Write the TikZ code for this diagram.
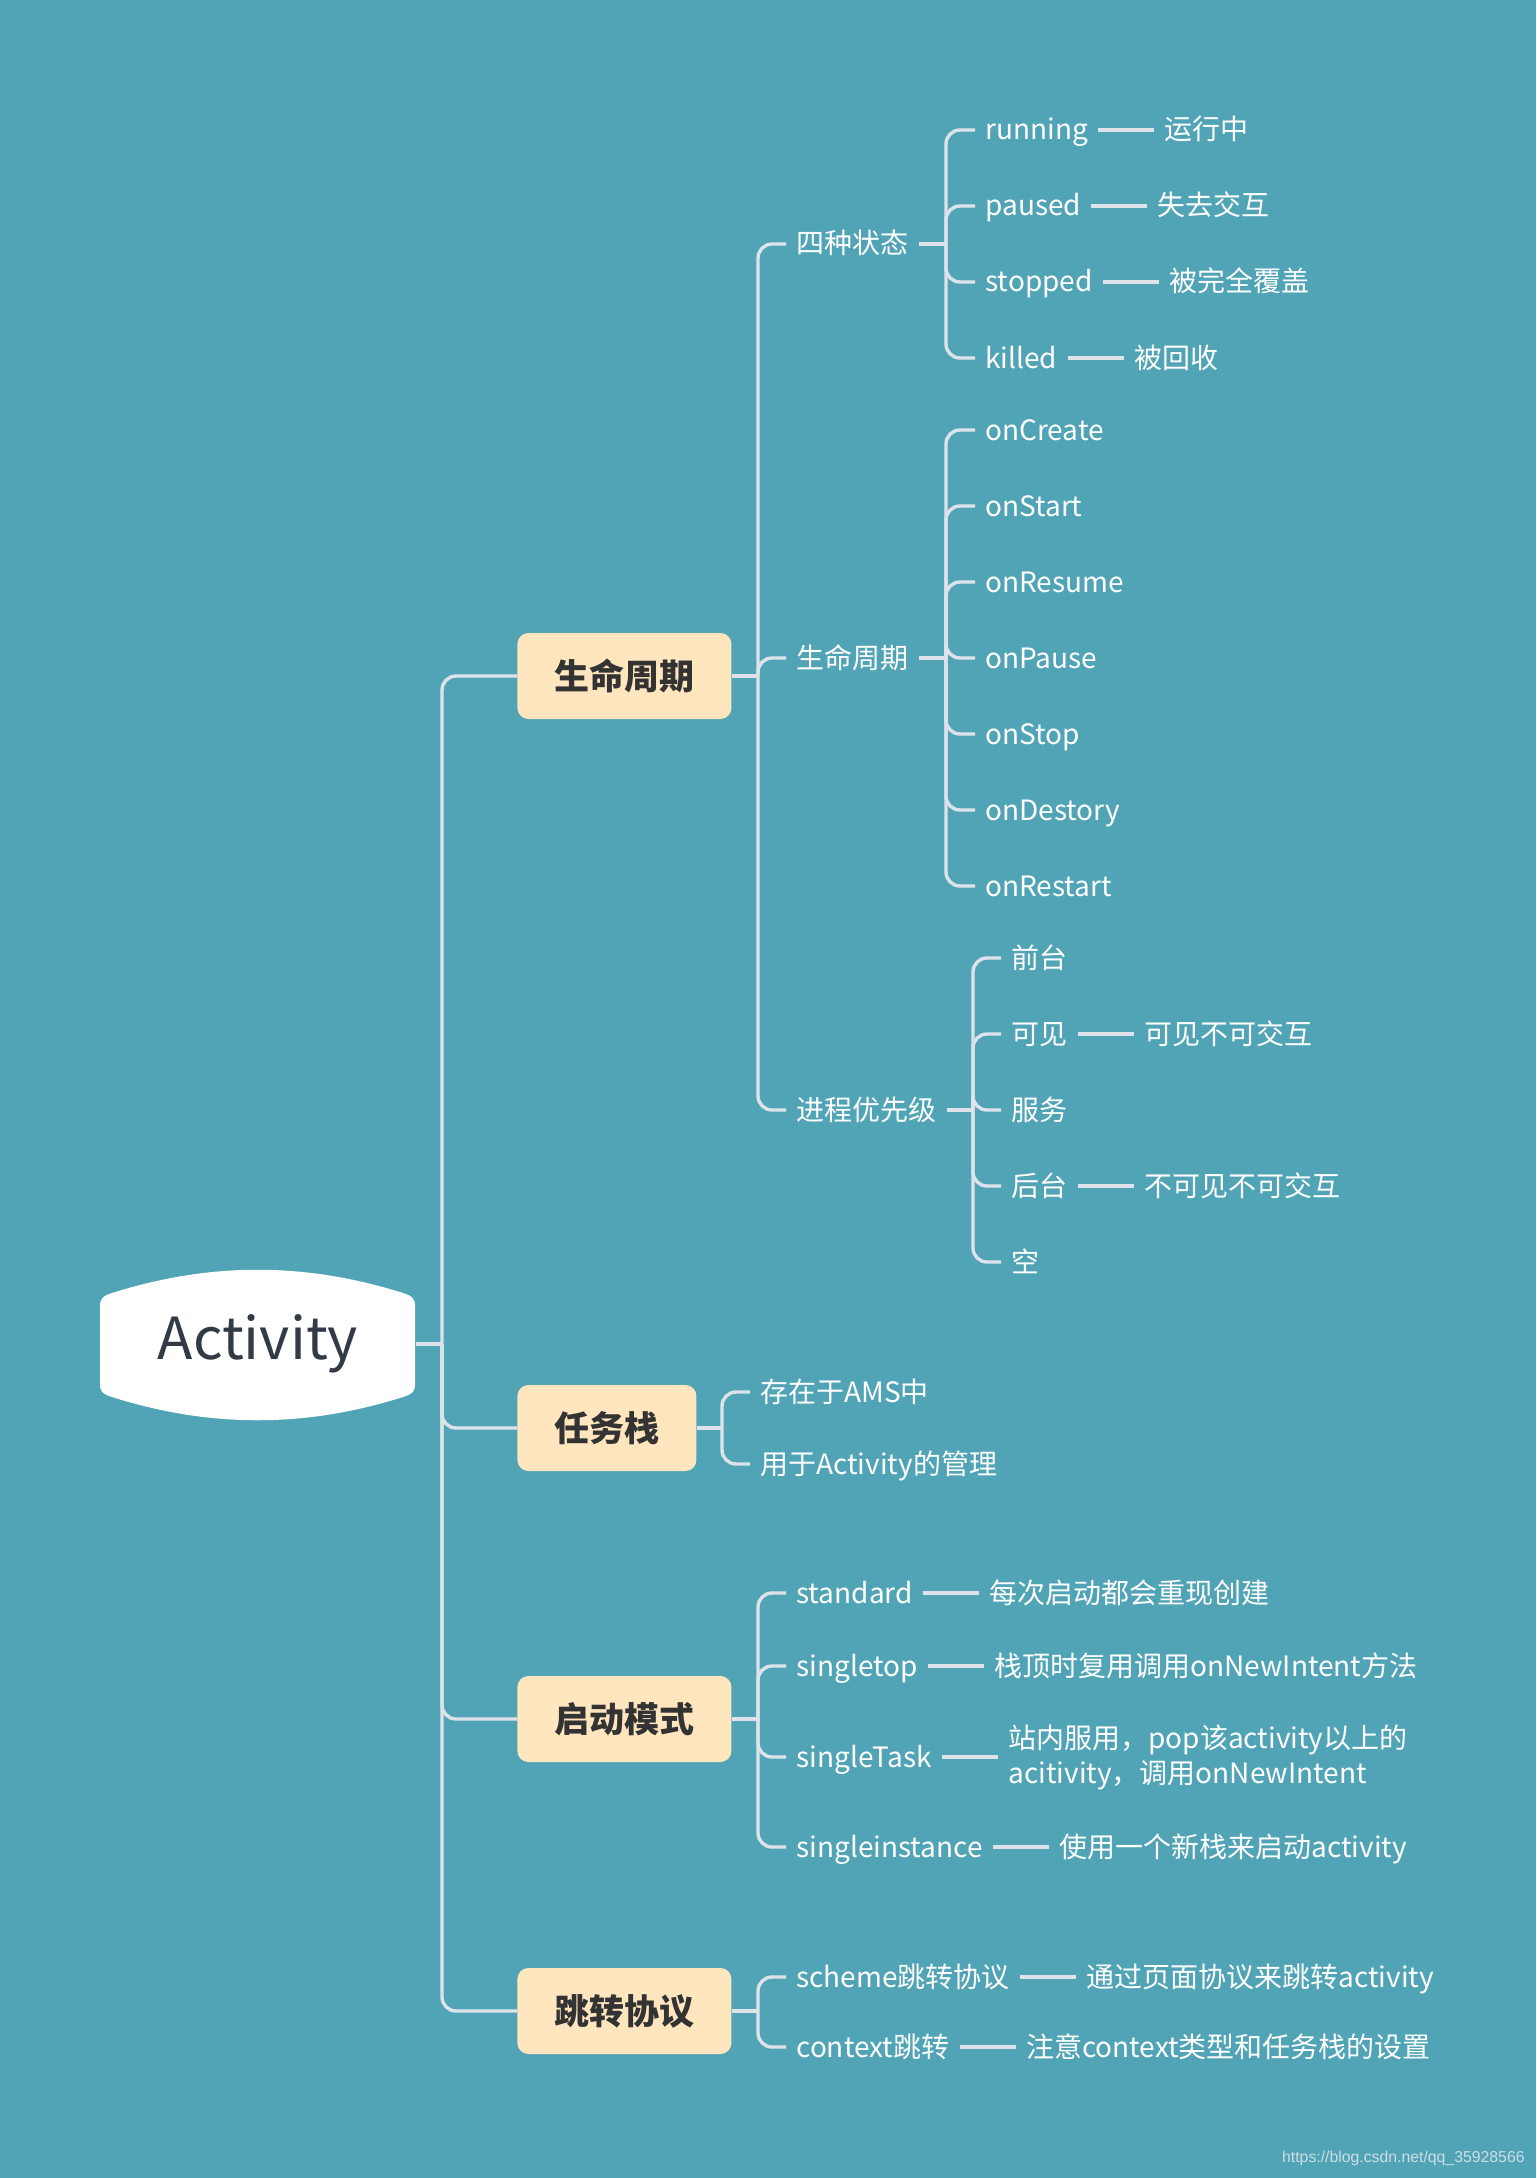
\documentclass[tikz,border=0pt]{standalone}
\usepackage{fontspec}
\setmainfont{Noto Sans CJK SC}
\newfontfamily\wmfont{Liberation Sans}
\usetikzlibrary{positioning}

\definecolor{bgteal}{RGB}{81,164,182}
\definecolor{peach}{RGB}{255,230,191}
\definecolor{linegrey}{RGB}{222,226,235}
\definecolor{boxtext}{RGB}{51,51,51}
\definecolor{roottext}{RGB}{50,58,70}
\definecolor{wmgrey}{RGB}{205,222,228}

\begin{document}
\begin{tikzpicture}[
  x=0.5pt, y=-0.5pt,
  link/.style={draw=linegrey, line width=1.7pt, rounded corners=7pt},
  topic/.style={fill=peach, text=boxtext, rounded corners=5.5pt, anchor=west,
    font=\fontsize{17.5}{20}\selectfont\bfseries, inner xsep=18.5pt, minimum height=43pt},
  leafbase/.style={text=white, font=\fontsize{14}{17.5}\selectfont, inner xsep=5pt, inner ysep=1pt},
  leaf/.style={leafbase, text height=12pt, text depth=2pt, anchor=west},
  wm/.style={text=wmgrey, font=\wmfont\fontsize{7.9}{9}\selectfont, inner sep=0pt}
]
  % background and page size
  \fill[bgteal] (0,0) rectangle (1536,2178);
  \useasboundingbox (0,0) rectangle (1536,2178);

  % root
  \fill[white] (100,1306) .. controls (100,1298) and (103,1296) .. (112,1293)
    .. controls (210,1262) and (305,1262) .. (403,1293)
    .. controls (412,1296) and (415,1298) .. (415,1306) -- (415,1384)
    .. controls (415,1392) and (412,1394) .. (403,1397)
    .. controls (305,1428) and (210,1428) .. (112,1397)
    .. controls (103,1394) and (100,1392) .. (100,1384) -- cycle;
  \node[text=roottext, font=\fontsize{29}{33}\selectfont, minimum width=157.5pt] (root) at (258,1344) {Activity};

  % main topics
  \node[topic] (life) at (517,676) {生命周期};
  \node[topic] (task) at (517,1428) {任务栈};
  \node[topic] (mode) at (517,1719) {启动模式};
  \node[topic] (jump) at (517,2011) {跳转协议};

  \coordinate (root-j) at (442,1344);
  \draw[link] (root.east) -- (root-j);
  \draw[link] (root-j) |- (life.west);
  \draw[link] (root-j) |- (task.west);
  \draw[link] (root-j) |- (mode.west);
  \draw[link] (root-j) |- (jump.west);

  % 生命周期
  \node[leaf] (life-state) at (786,244) {四种状态};
  \node[leaf] (life-cycle) at (786,658) {生命周期};
  \node[leaf] (life-prio) at (786,1110) {进程优先级};

  \coordinate (life-j) at (758,676);
  \draw[link] (life.east) -- (life-j);
  \draw[link] (life-j) |- (life-state.west);
  \draw[link] (life-j) |- (life-cycle.west);
  \draw[link] (life-j) |- (life-prio.west);

  % 四种状态
  \node[leaf] (st-run) at (975,130) {running};
  \node[leaf] (st-pause) at (975,206) {paused};
  \node[leaf] (st-stop) at (975,282) {stopped};
  \node[leaf] (st-kill) at (975,358) {killed};
  \node[leaf, right=28pt of st-run] (st-run-note) {运行中};
  \node[leaf, right=28pt of st-pause] (st-pause-note) {失去交互};
  \node[leaf, right=28pt of st-stop] (st-stop-note) {被完全覆盖};
  \node[leaf, right=28pt of st-kill] (st-kill-note) {被回收};

  \coordinate (state-j) at (946,244);
  \draw[link] (life-state.east) -- (state-j);
  \draw[link] (state-j) |- (st-run.west);
  \draw[link] (state-j) |- (st-pause.west);
  \draw[link] (state-j) |- (st-stop.west);
  \draw[link] (state-j) |- (st-kill.west);
  \draw[link] (st-run) -- (st-run-note);
  \draw[link] (st-pause) -- (st-pause-note);
  \draw[link] (st-stop) -- (st-stop-note);
  \draw[link] (st-kill) -- (st-kill-note);

  % 生命周期 callbacks
  \node[leaf] (cb-create) at (975,430) {onCreate};
  \node[leaf] (cb-start) at (975,506) {onStart};
  \node[leaf] (cb-resume) at (975,582) {onResume};
  \node[leaf] (cb-pause) at (975,658) {onPause};
  \node[leaf] (cb-stop) at (975,734) {onStop};
  \node[leaf] (cb-destroy) at (975,810) {onDestory};
  \node[leaf] (cb-restart) at (975,886) {onRestart};

  \coordinate (cycle-j) at (946,658);
  \draw[link] (life-cycle.east) -- (cycle-j);
  \draw[link] (cycle-j) |- (cb-create.west);
  \draw[link] (cycle-j) |- (cb-start.west);
  \draw[link] (cycle-j) |- (cb-resume.west);
  \draw[link] (cycle-j) |- (cb-pause.west);
  \draw[link] (cycle-j) |- (cb-stop.west);
  \draw[link] (cycle-j) |- (cb-destroy.west);
  \draw[link] (cycle-j) |- (cb-restart.west);

  % 进程优先级
  \node[leaf] (pr-front) at (1001,958) {前台};
  \node[leaf] (pr-visible) at (1001,1034) {可见};
  \node[leaf] (pr-service) at (1001,1110) {服务};
  \node[leaf] (pr-back) at (1001,1186) {后台};
  \node[leaf] (pr-empty) at (1001,1262) {空};
  \node[leaf, right=28pt of pr-visible] (pr-visible-note) {可见不可交互};
  \node[leaf, right=28pt of pr-back] (pr-back-note) {不可见不可交互};

  \coordinate (prio-j) at (973,1110);
  \draw[link] (life-prio.east) -- (prio-j);
  \draw[link] (prio-j) |- (pr-front.west);
  \draw[link] (prio-j) |- (pr-visible.west);
  \draw[link] (prio-j) |- (pr-service.west);
  \draw[link] (prio-j) |- (pr-back.west);
  \draw[link] (prio-j) |- (pr-empty.west);
  \draw[link] (pr-visible) -- (pr-visible-note);
  \draw[link] (pr-back) -- (pr-back-note);

  % 任务栈
  \node[leaf] (task-ams) at (750,1392) {存在于AMS中};
  \node[leaf] (task-manage) at (750,1464) {用于Activity的管理};

  \coordinate (task-j) at (722,1428);
  \draw[link] (task.east) -- (task-j);
  \draw[link] (task-j) |- (task-ams.west);
  \draw[link] (task-j) |- (task-manage.west);

  % 启动模式
  \node[leaf] (mode-std) at (786,1593) {standard};
  \node[leaf] (mode-top) at (786,1666) {singletop};
  \node[leaf] (mode-task) at (786,1757) {singleTask};
  \node[leaf] (mode-inst) at (786,1847) {singleinstance};
  \node[leaf, right=28pt of mode-std] (mode-std-note) {每次启动都会重现创建};
  \node[leaf, right=28pt of mode-top] (mode-top-note) {栈顶时复用调用onNewIntent方法};
  \node[leafbase, align=left, right=28pt of mode-task] (mode-task-note) {站内服用，pop该activity以上的\\acitivity，调用onNewIntent};
  \node[leaf, right=28pt of mode-inst] (mode-inst-note) {使用一个新栈来启动activity};

  \coordinate (mode-j) at (758,1719);
  \draw[link] (mode.east) -- (mode-j);
  \draw[link] (mode-j) |- (mode-std.west);
  \draw[link] (mode-j) |- (mode-top.west);
  \draw[link] (mode-j) |- (mode-task.west);
  \draw[link] (mode-j) |- (mode-inst.west);
  \draw[link] (mode-std) -- (mode-std-note);
  \draw[link] (mode-top) -- (mode-top-note);
  \draw[link] (mode-task) -- (mode-task-note);
  \draw[link] (mode-inst) -- (mode-inst-note);

  % 跳转协议
  \node[leaf] (jump-scheme) at (786,1977) {scheme跳转协议};
  \node[leaf] (jump-context) at (786,2047) {context跳转};
  \node[leaf, right=28pt of jump-scheme] (jump-scheme-note) {通过页面协议来跳转activity};
  \node[leaf, right=28pt of jump-context] (jump-context-note) {注意context类型和任务栈的设置};

  \coordinate (jump-j) at (758,2011);
  \draw[link] (jump.east) -- (jump-j);
  \draw[link] (jump-j) |- (jump-scheme.west);
  \draw[link] (jump-j) |- (jump-context.west);
  \draw[link] (jump-scheme) -- (jump-scheme-note);
  \draw[link] (jump-context) -- (jump-context-note);

  % watermark
  \node[wm, anchor=east] (mark) at (1525,2158) {https://blog.csdn.net/qq\_35928566};
\end{tikzpicture}
\end{document}
